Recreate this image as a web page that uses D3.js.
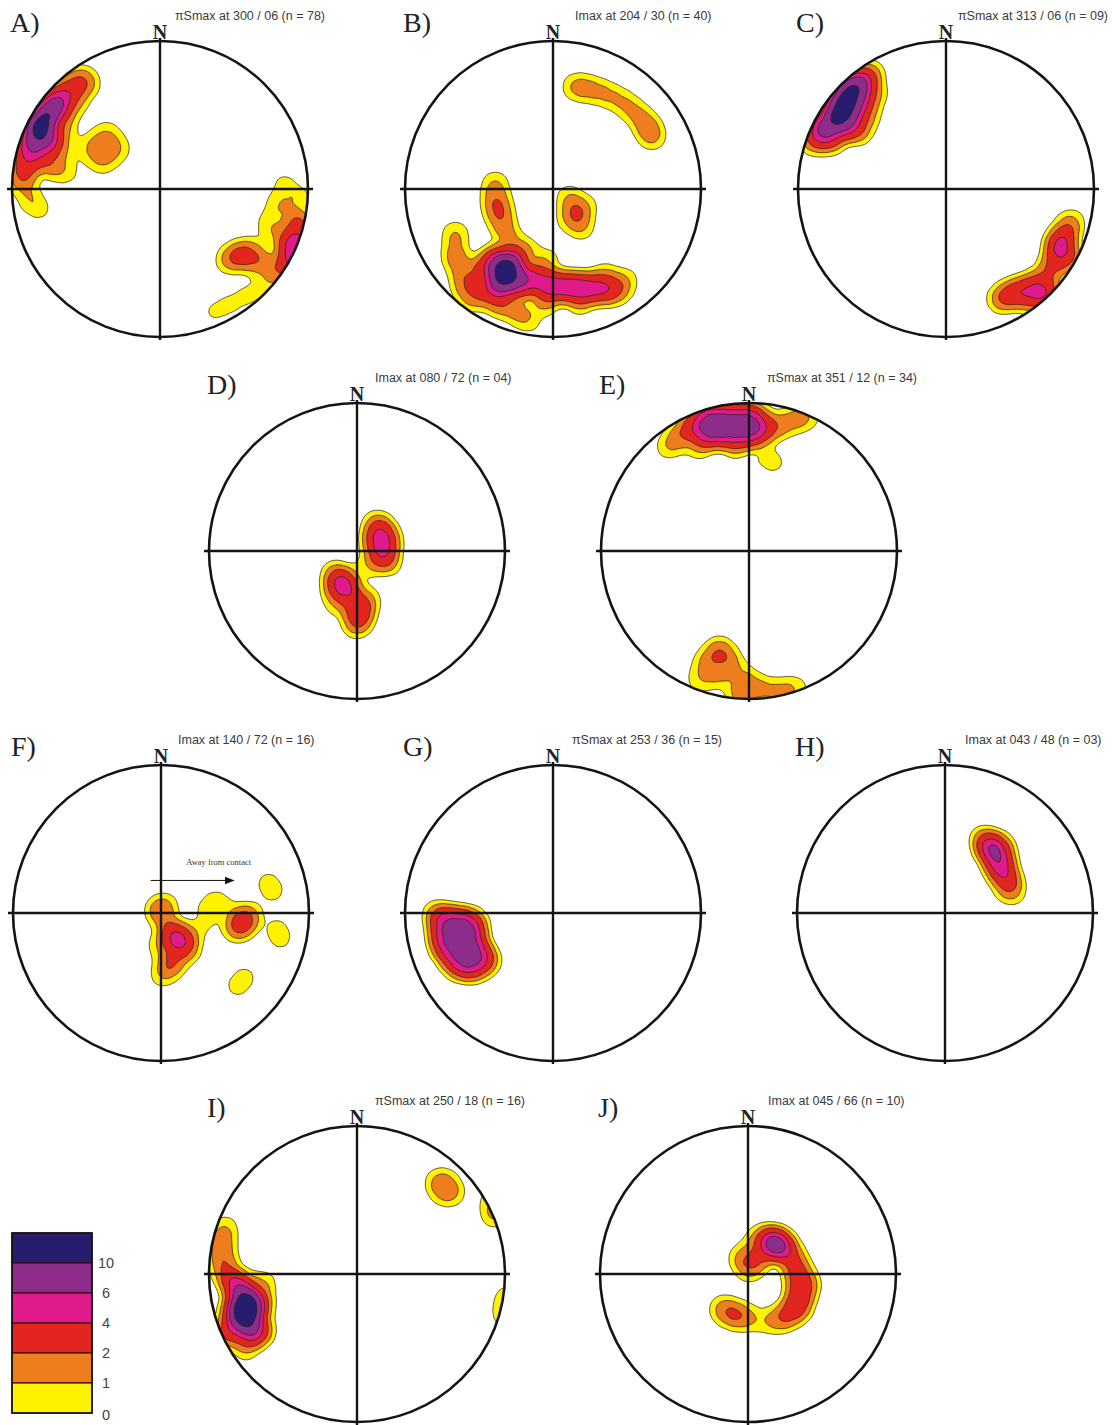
<!DOCTYPE html>
<html lang="en">
<head>
<meta charset="UTF-8">
<title>Stereonet density plots A-J</title>
<script src="https://cdn.jsdelivr.net/npm/d3@7"></script>
<style>
  body { margin: 0; background: #fff; }
  svg text { font-family: "Liberation Sans", Arial, sans-serif; }
  .letter { font-family: "Liberation Serif", "Times New Roman", serif; font-size: 28px; fill: #222; }
  .north { font-family: "Liberation Serif", "Times New Roman", serif; font-weight: bold; font-size: 20px; fill: #222; }
  .note { font-size: 12.5px; fill: #3a3a3a; }
  .legend-label { font-size: 14.5px; fill: #444; }
</style>
</head>
<body>
<svg id="chart" width="1118" height="1425"></svg>
<script>
// contour levels (legend) and fills
const levels = [0, 1, 2, 4, 6, 10];
const levelColors = ['#fff200', '#ee7d1e', '#e2261f', '#e11a8b', '#8e2c8c', '#261d6f'];
const legendLabels = ['10', '6', '4', '2', '1', '0'];

const panelLetters = ['A', 'B', 'C', 'D', 'E', 'F', 'G', 'H', 'I', 'J'];
const panelNotes = [
  'πSmax at 300 / 06 (n = 78)',
  'Imax at 204 / 30 (n = 40)',
  'πSmax at 313 / 06 (n = 09)',
  'Imax at 080 / 72 (n = 04)',
  'πSmax at 351 / 12 (n = 34)',
  'Imax at 140 / 72 (n = 16)',
  'πSmax at 253 / 36 (n = 15)',
  'Imax at 043 / 48 (n = 03)',
  'πSmax at 250 / 18 (n = 16)',
  'Imax at 045 / 66 (n = 10)'
];

// poles in projected net coordinates [east, north, weight], net radius = 1
const polesA = [
  [-0.80, 0.45, 9], [-0.84, 0.39, 7], [-0.74, 0.53, 7], [-0.69, 0.60, 5], [-0.88, 0.28, 6],
  [-0.76, 0.33, 6], [-0.61, 0.67, 2.5], [-0.54, 0.74, 1.5], [-0.49, 0.71, 1.1], [-0.91, 0.16, 3],
  [-0.78, 0.20, 2.2], [-0.66, 0.40, 1.4], [-0.93, 0.06, 1.8], [-0.70, 0.13, 1.0], [-0.88, -0.07, 1],
  [-0.81, -0.14, 0.6], [-0.63, 0.52, 1.2], [-0.56, 0.60, 1.0], [-0.66, 0.26, 1.0],
  [-0.49, 0.28, 0.6], [-0.44, 0.22, 0.6], [-0.39, 0.17, 0.6], [-0.43, 0.33, 0.6], [-0.38, 0.28, 0.6],
  [-0.33, 0.22, 0.6], [-0.36, 0.39, 0.6], [-0.32, 0.33, 0.6], [-0.27, 0.27, 0.6], [-0.61, 0.11, 0.5],
  [0.54, -0.45, 2.6], [0.46, -0.48, 1.2], [0.62, -0.41, 1.0], [0.64, -0.49, 1.0], [0.69, -0.49, 1.0],
  [0.74, -0.24, 1.0], [0.80, -0.11, 1.1], [0.84, 0.03, 0.7], [0.92, -0.38, 6.5], [0.88, -0.49, 4],
  [0.93, -0.24, 3], [0.82, -0.34, 1.2], [0.80, -0.56, 1.5], [0.71, -0.65, 0.8], [0.59, -0.72, 0.65],
  [0.47, -0.78, 0.6], [0.36, -0.83, 0.55], [0.93, -0.07, 1.0]
];
const polesB = [
  [0.15, 0.69, 1.2], [0.23, 0.68, 1.0], [0.31, 0.66, 0.9], [0.39, 0.63, 0.85], [0.47, 0.59, 0.8],
  [0.53, 0.54, 0.8], [0.59, 0.49, 0.9], [0.64, 0.42, 1.4], [0.67, 0.35, 1.2],
  [0.11, -0.06, 1.1], [0.16, -0.16, 2.0], [0.19, -0.26, 1.1], [0.09, -0.21, 0.6], [0.23, -0.11, 0.6],
  [-0.32, -0.56, 11], [-0.36, -0.64, 7], [-0.28, -0.49, 6], [-0.39, -0.49, 5], [-0.24, -0.64, 5],
  [-0.16, -0.60, 4.5], [-0.05, -0.64, 4.5], [0.05, -0.66, 4.5], [0.15, -0.66, 4.5], [0.25, -0.67, 4.2],
  [0.35, -0.68, 3.5], [0.44, -0.68, 1.8], [-0.48, -0.55, 2.5], [-0.47, -0.70, 2.2], [-0.36, -0.77, 2.2],
  [-0.24, -0.83, 1.4], [-0.16, -0.89, 0.8], [-0.66, -0.31, 1.3], [-0.66, -0.45, 1.6], [-0.62, -0.55, 1.2],
  [-0.59, -0.65, 1.8], [-0.56, -0.75, 1], [-0.39, 0.04, 1.0], [-0.39, -0.05, 1.3], [-0.37, -0.14, 2.2],
  [-0.34, -0.24, 1.4], [-0.30, -0.34, 1.2], [-0.05, -0.76, 1.6], [0.18, -0.76, 1.4], [0.35, -0.58, 1.0],
  [-0.19, -0.41, 1.2], [-0.05, -0.49, 1.2], [0.49, -0.61, 0.8]
];
const polesC = [
  [-0.68, 0.64, 9], [-0.73, 0.55, 7], [-0.61, 0.70, 6], [-0.76, 0.47, 6.5], [-0.65, 0.53, 6.5],
  [-0.84, 0.41, 5.5], [-0.68, 0.43, 5], [-0.57, 0.72, 3], [-0.58, 0.60, 4], [-0.78, 0.34, 3],
  [-0.51, 0.77, 1.8], [-0.59, 0.40, 2], [-0.89, 0.33, 2.2], [-0.48, 0.64, 1.2], [-0.53, 0.50, 1.3],
  [0.77, -0.38, 4.8], [0.81, -0.29, 2], [0.74, -0.49, 2.4], [0.68, -0.58, 1.8], [0.58, -0.66, 3],
  [0.47, -0.70, 3.2], [0.38, -0.74, 2.2], [0.67, -0.71, 4], [0.84, -0.47, 1.8], [0.85, -0.22, 1.0],
  [0.57, -0.75, 1.8]
];
const polesD = [
  [0.16, 0.13, 3.2], [0.165, 0.05, 3.2], [0.17, -0.03, 3.2], [0.13, 0.19, 1.0], [0.21, -0.08, 1.0],
  [0.09, 0.07, 0.8], [0.24, 0.07, 0.8],
  [-0.09, -0.23, 5], [-0.14, -0.16, 1.8], [-0.03, -0.32, 2], [0.02, -0.41, 3], [0.00, -0.49, 2],
  [0.07, -0.33, 1.2], [-0.13, -0.36, 1], [0.06, -0.11, 0.8], [-0.16, -0.26, 1]
];
const polesE = [
  [-0.30, 0.90, 4], [-0.22, 0.90, 4], [-0.14, 0.90, 4], [-0.05, 0.90, 4], [0.03, 0.90, 4],
  [-0.30, 0.80, 4], [-0.22, 0.80, 4], [-0.14, 0.80, 4], [-0.05, 0.80, 4], [0.03, 0.80, 4],
  [-0.40, 0.84, 2.5], [0.11, 0.83, 2.5], [-0.48, 0.76, 1.5], [0.21, 0.85, 1.5], [0.32, 0.89, 1.3],
  [0.40, 0.91, 0.8], [-0.55, 0.70, 0.8], [-0.33, 0.70, 1.1], [-0.09, 0.70, 1.1], [0.11, 0.64, 0.6],
  [0.18, 0.59, 0.5],
  [-0.20, -0.68, 2.2], [-0.29, -0.75, 1.3], [-0.12, -0.75, 1.2], [-0.20, -0.84, 1.3], [-0.03, -0.86, 1.2],
  [-0.33, -0.87, 1.0], [0.07, -0.93, 1.4], [0.20, -0.95, 1.3], [0.31, -0.93, 1.0], [-0.06, -0.97, 1.6]
];
const polesF = [
  [0.11, -0.18, 4.5], [0.06, -0.11, 1.8], [0.17, -0.25, 1.8], [-0.01, 0.01, 1.8], [0.03, 0.05, 0.8],
  [0.07, -0.34, 2.3], [0.01, -0.42, 0.9], [0.20, -0.15, 1.0], [-0.01, -0.22, 0.9],
  [0.30, 0.02, 0.55], [0.36, 0.09, 0.5], [0.43, 0.05, 0.5], [0.33, -0.08, 0.4],
  [0.55, -0.06, 3.0], [0.51, -0.11, 1.2], [0.60, -0.01, 1.0],
  [0.72, 0.21, 0.6], [0.76, 0.14, 0.6], [0.78, -0.10, 0.6], [0.81, -0.18, 0.6],
  [0.51, -0.50, 0.6], [0.57, -0.43, 0.6]
];
const polesG = [
  [-0.72, -0.06, 4.2], [-0.63, -0.06, 4.2], [-0.55, -0.08, 4.2], [-0.74, -0.16, 4.2], [-0.64, -0.16, 3],
  [-0.55, -0.17, 4.2], [-0.71, -0.25, 4.2], [-0.61, -0.25, 3], [-0.52, -0.26, 4.2], [-0.64, -0.34, 4.2],
  [-0.55, -0.36, 4.2], [-0.46, -0.32, 3], [-0.78, -0.02, 2]
];
const polesH = [
  [0.32, 0.43, 6], [0.37, 0.32, 5.5], [0.27, 0.49, 2], [0.42, 0.22, 3], [0.45, 0.14, 1.2],
  [0.39, 0.43, 1.5]
];
const polesI = [
  [-0.75, -0.18, 9], [-0.75, -0.30, 9], [-0.75, -0.24, 6], [-0.80, -0.09, 5.5], [-0.71, -0.39, 5.5],
  [-0.82, -0.26, 5], [-0.67, -0.21, 4], [-0.86, -0.39, 3.5], [-0.87, -0.01, 2.5], [-0.91, 0.11, 2],
  [-0.91, 0.23, 1.5], [-0.89, 0.32, 0.8], [-0.64, -0.07, 1.3], [-0.64, -0.38, 1.5], [-0.75, -0.50, 1.2],
  [0.55, 0.62, 1.2], [0.64, 0.55, 1.2], [0.57, 0.54, 0.6], [0.61, 0.63, 0.6],
  [0.93, 0.41, 1.5], [0.90, 0.52, 0.6], [1.02, -0.17, 1.2], [1.00, -0.28, 1.0]
];
const polesJ = [
  [0.19, 0.20, 7], [0.14, 0.23, 3], [0.26, 0.16, 3], [0.32, 0.06, 2.5], [0.35, -0.04, 2.5],
  [0.35, -0.15, 3], [0.32, -0.24, 3], [0.23, -0.30, 2], [0.41, -0.07, 1], [0.08, 0.11, 1.8],
  [0.01, 0.04, 1.5], [-0.04, 0.11, 1.3], [0.05, 0.22, 1.0], [0.12, -0.32, 0.8],
  [-0.07, -0.28, 1.9], [-0.15, -0.26, 1], [0.01, -0.30, 0.8], [-0.17, -0.23, 0.9]
];
const panelPoles = [polesA, polesB, polesC, polesD, polesE, polesF, polesG, polesH, polesI, polesJ];

// layout: net centres and note offsets
const layout = [
  {cx: 160, cy: 189, note: 15}, {cx: 553, cy: 189, note: 22}, {cx: 946, cy: 189, note: 12},
  {cx: 357, cy: 551, note: 18}, {cx: 749, cy: 551, note: 18},
  {cx: 161, cy: 913, note: 17}, {cx: 553, cy: 913, note: 19}, {cx: 945, cy: 913, note: 20},
  {cx: 357, cy: 1274, note: 18}, {cx: 748, cy: 1274, note: 20}
];

const R = 148, PAD = 36, BW = 8;
const floorLevel = 0.4;               // lowest drawn contour stands for "0"
const K = 1 / (2 * Math.PI * BW * BW); // one unit weight -> peak of about 1

const svg = d3.select('#chart');
const x = d3.scaleLinear().domain([-1, 1]).range([-R, R]);
const y = d3.scaleLinear().domain([-1, 1]).range([R, -R]);

panelLetters.forEach((letter, i) => {
  const L = layout[i];
  const g = svg.append('g').attr('transform', `translate(${L.cx},${L.cy})`);

  g.append('clipPath').attr('id', 'clip' + letter)
    .append('circle').attr('r', R);

  const density = d3.contourDensity()
      .x(d => x(d[0]) + R + PAD)
      .y(d => y(d[1]) + R + PAD)
      .weight(d => d[2])
      .size([2 * (R + PAD), 2 * (R + PAD)])
      .cellSize(2)
      .bandwidth(BW)
      .thresholds(levels.map(l => Math.max(l, floorLevel) * K));

  const bands = density(panelPoles[i]);

  g.append('g').attr('clip-path', `url(#clip${letter})`)
    .append('g').attr('transform', `translate(${-R - PAD},${-R - PAD})`)
    .selectAll('path').data(bands).join('path')
      .attr('d', d3.geoPath())
      .attr('fill', (d, j) => levelColors[j])
      .attr('stroke', '#2e2414')
      .attr('stroke-width', 0.75)
      .attr('stroke-linejoin', 'round');

  // net frame
  g.append('circle').attr('r', R)
    .attr('fill', 'none').attr('stroke', '#141414').attr('stroke-width', 2.6);
  g.append('line').attr('x1', -R - 5).attr('x2', R + 5).attr('y1', 0).attr('y2', 0)
    .attr('stroke', '#141414').attr('stroke-width', 2.4);
  g.append('line').attr('x1', 0).attr('x2', 0).attr('y1', -R - 3).attr('y2', R + 3)
    .attr('stroke', '#141414').attr('stroke-width', 2.4);

  g.append('text').attr('class', 'north')
    .attr('x', 0).attr('y', -R - 2).attr('text-anchor', 'middle').text('N');
  g.append('text').attr('class', 'letter')
    .attr('x', -150).attr('y', -157).text(letter + ')');
  g.append('text').attr('class', 'note')
    .attr('x', L.note).attr('y', -169).text(panelNotes[i]);

  if (letter === 'F') {
    const ay = y(0.22);
    g.append('defs').append('marker')
      .attr('id', 'arrowF').attr('viewBox', '0 0 10 10')
      .attr('refX', 9).attr('refY', 5)
      .attr('markerWidth', 10).attr('markerHeight', 10)
      .attr('markerUnits', 'userSpaceOnUse')
      .attr('orient', 'auto')
      .append('path').attr('d', 'M0,1 L10,5 L0,9 Z').attr('fill', '#111');
    g.append('line')
      .attr('x1', x(-0.07)).attr('x2', x(0.49))
      .attr('y1', ay).attr('y2', ay)
      .attr('stroke', '#111').attr('stroke-width', 1)
      .attr('marker-end', 'url(#arrowF)');
    g.append('text')
      .attr('x', x(0.39)).attr('y', ay - 15)
      .attr('text-anchor', 'middle')
      .style('font-family', '"Liberation Serif", serif')
      .style('font-size', '8.5px').style('fill', '#333')
      .text('Away from contact');
  }
});

// legend
const lg = svg.append('g').attr('transform', 'translate(12,1233)');
const boxH = 30, boxW = 80;
const legendColors = levelColors.slice().reverse();
lg.selectAll('rect.band').data(legendColors).join('rect')
  .attr('class', 'band')
  .attr('x', 0).attr('y', (d, i) => i * boxH)
  .attr('width', boxW).attr('height', boxH)
  .attr('fill', d => d)
  .attr('stroke', '#3a0d0d').attr('stroke-width', 1.2);
lg.append('rect').attr('width', boxW).attr('height', boxH * legendColors.length)
  .attr('fill', 'none').attr('stroke', '#111').attr('stroke-width', 1.6);
lg.selectAll('text').data(legendLabels).join('text')
  .attr('class', 'legend-label')
  .attr('x', 94).attr('y', (d, i) => (i + 1) * boxH + 5 + (i === 5 ? 2 : 0))
  .attr('text-anchor', 'middle')
  .text(d => d);
</script>
</body>
</html>
